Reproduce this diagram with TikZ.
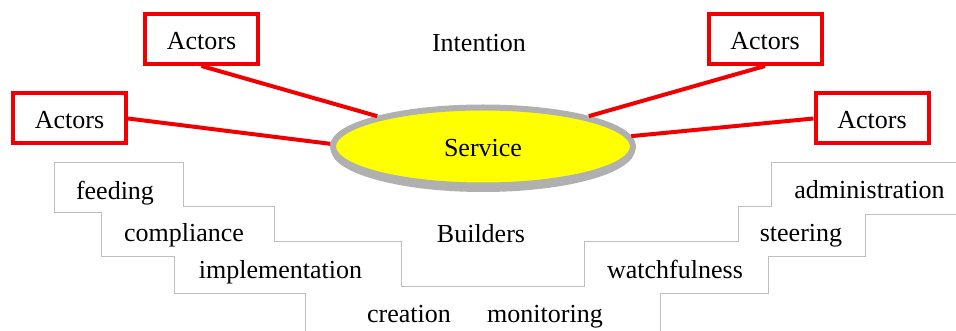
\documentclass[tikz,border=0pt]{standalone}
\usepackage{fontspec}
\setmainfont{Liberation Serif}
\usetikzlibrary{shapes.geometric}
\definecolor{actorred}{RGB}{240,0,0}
\definecolor{rimgray}{RGB}{176,176,176}
\definecolor{stairgray}{RGB}{190,190,190}
\definecolor{svcyellow}{RGB}{255,255,0}
\begin{document}
\begin{tikzpicture}[x=1pt,y=-1pt,
  every node/.style={font=\fontsize{26}{30}\selectfont, inner sep=0pt},
  actorbox/.style={draw=actorred, line width=4pt, fill=white, minimum width=113pt,
                   minimum height=50pt, text height=21pt, text depth=0pt},
  link/.style={draw=actorred, line width=4pt},
  stair/.style={draw=stairgray, line width=1pt},
  label/.style={anchor=base}]
\useasboundingbox (0,0) rectangle (956,331);

% staircase outlines
\draw[stair] (956,163) -- (771,163) -- (771,207) -- (738,207) -- (738,242) -- (584,242)
  -- (584,286) -- (401,286) -- (401,242) -- (274,242) -- (274,207) -- (183,207)
  -- (183,163) -- (54,163) -- (54,213) -- (101,213) -- (101,257) -- (174,257)
  -- (174,293) -- (305,293) -- (305,331);
\draw[stair] (956,215) -- (865,215) -- (865,257) -- (768,257) -- (768,293)
  -- (660,293) -- (660,331);

% central service ellipse with its soft lower rim
\fill[rimgray] (483,149.5) ellipse [x radius=152, y radius=42.5];
\node[ellipse, draw=rimgray, fill=svcyellow, line width=6pt,
      minimum width=300pt, minimum height=78pt] (svc) at (483,146.5) {};
\node[label] (svctext) at (483,157) {Service};

% actor boxes
\node[actorbox] (a1) at (201.5,39) {Actors};
\node[actorbox] (a2) at (69.5,118.5) {Actors};
\node[actorbox] (a3) at (765,39) {Actors};
\node[actorbox] (a4) at (872,118.5) {Actors};

% links from actors to the service
\draw[link] (a1.south) -- (svc.164);
\draw[link] (a2.east) -- (svc.179);
\draw[link] (a3.south) -- (svc.16);
\draw[link] (a4.west) -- (svc.4.5);

% labels
\node[label] (intention) at (479,52) {Intention};
\node[label] (builders) at (481,243) {Builders};
\node[label] (feeding) at (115,200) {feeding};
\node[label] (compliance) at (184,242) {compliance};
\node[label] (implementation) at (280.5,278) {implementation};
\node[label] (creation) at (409,322) {creation};
\node[label] (monitoring) at (545,322) {monitoring};
\node[label] (watchfulness) at (675,278) {watchfulness};
\node[label] (steering) at (801,242) {steering};
\node[label] (administration) at (869.5,199) {administration};
\end{tikzpicture}
\end{document}
